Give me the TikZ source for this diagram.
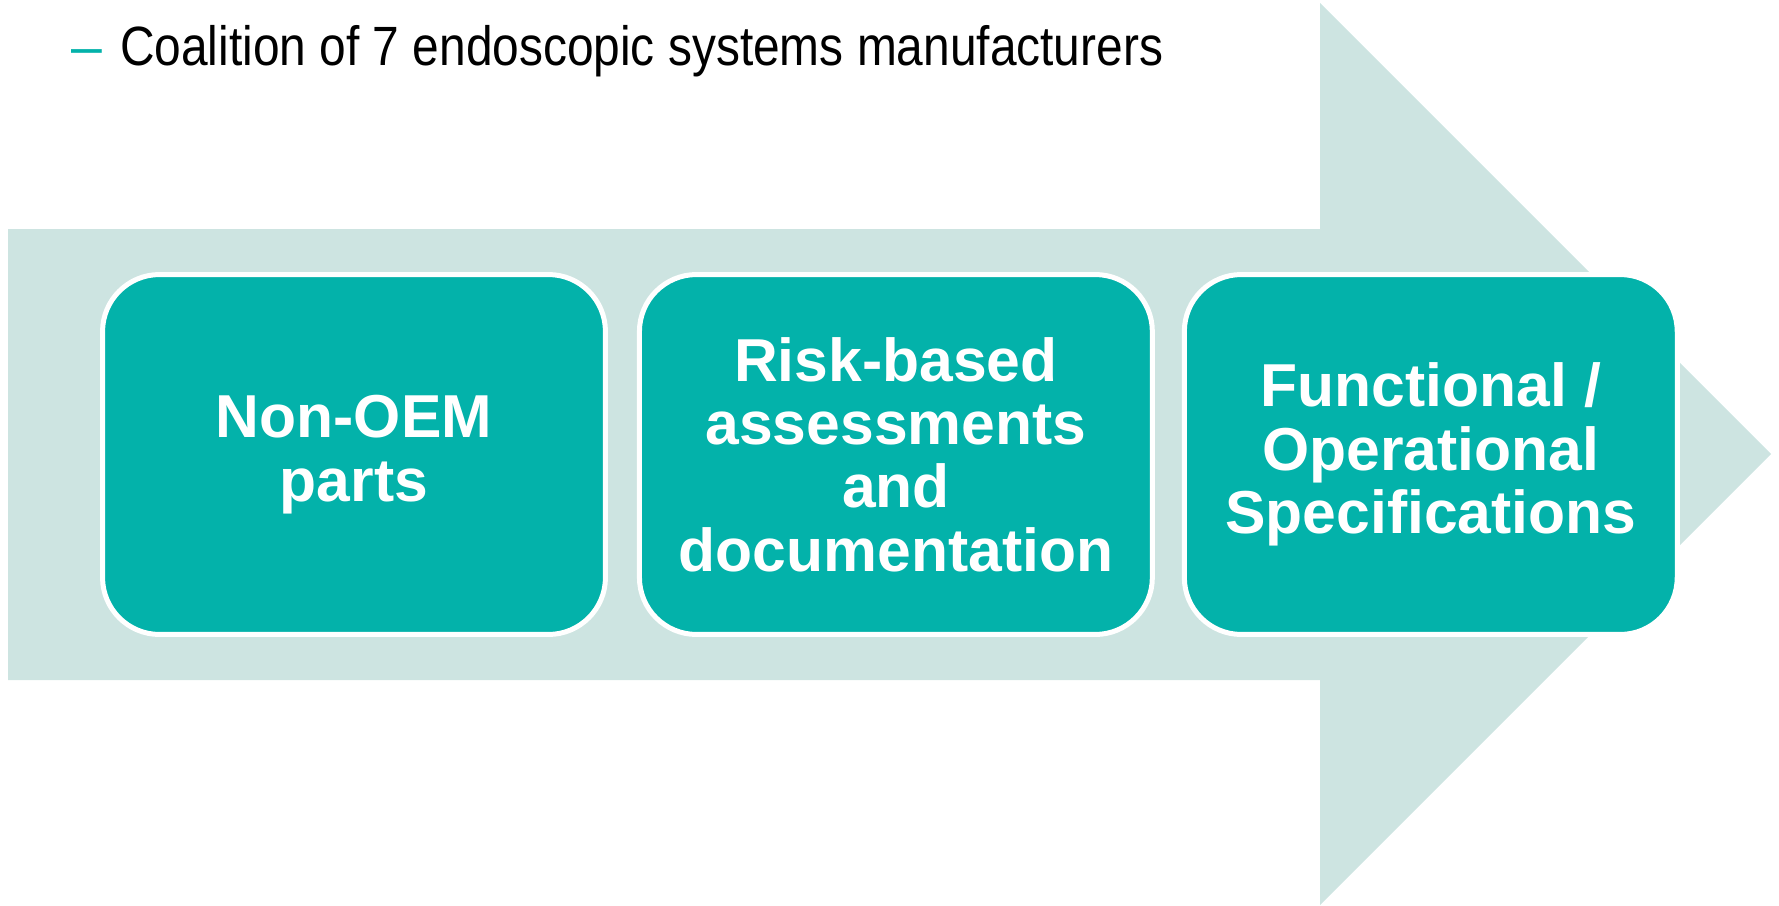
\documentclass[tikz,border=0pt]{standalone}
\usepackage{fontspec}
\setmainfont{Liberation Sans}
\newfontfamily\narrowsans[FakeStretch=0.865]{Liberation Sans}
\usetikzlibrary{positioning}
\definecolor{palegreen}{HTML}{CDE4E1}
\definecolor{boxteal}{HTML}{03B2AA}
\tikzset{
flow/.style={
    x=0.02cm,
    y=-0.02cm
},
band/.style={
    fill=palegreen,
    draw=none
},
stage/.style={
    rectangle,
    rounded corners=1.14cm,
    draw=white,
    line width=0.1cm,
    fill=boxteal,
    text=white,
    font=\bfseries\fontsize{34.5}{36}\selectfont,
    align=center,
    minimum height=7.2cm,
    inner sep=0pt,
    outer sep=0pt
},
heading/.style={
    anchor=base west,
    inner sep=0pt,
    font=\narrowsans\fontsize{31.5}{36}\selectfont
}}

\begin{document}
\begin{tikzpicture}[flow]
\useasboundingbox (0,0) rectangle (1779,906);
\fill[band] (8,229) -- (1320,229) -- (1320,3) -- (1771,454) -- (1320,905) -- (1320,680) -- (8,680) -- cycle;

\node[heading]  (title) at (71,65)    {\textcolor{boxteal}{\fontspec{Liberation Sans}–}\hspace{0.36cm}Coalition of 7 endoscopic systems manufacturers};

\node[stage, minimum width=10.06cm]    (parts)   at (354,454.5)    {Non-OEM\\parts};
\node[stage, minimum width=10.26cm]    (risk)    [right=0.68cm of parts]    {Risk-based\\assessments\\and\\documentation};
\node[stage, minimum width=9.86cm]     (spec)    [right=0.64cm of risk]     {Functional /\\Operational\\Specifications};
\end{tikzpicture}
\end{document}
